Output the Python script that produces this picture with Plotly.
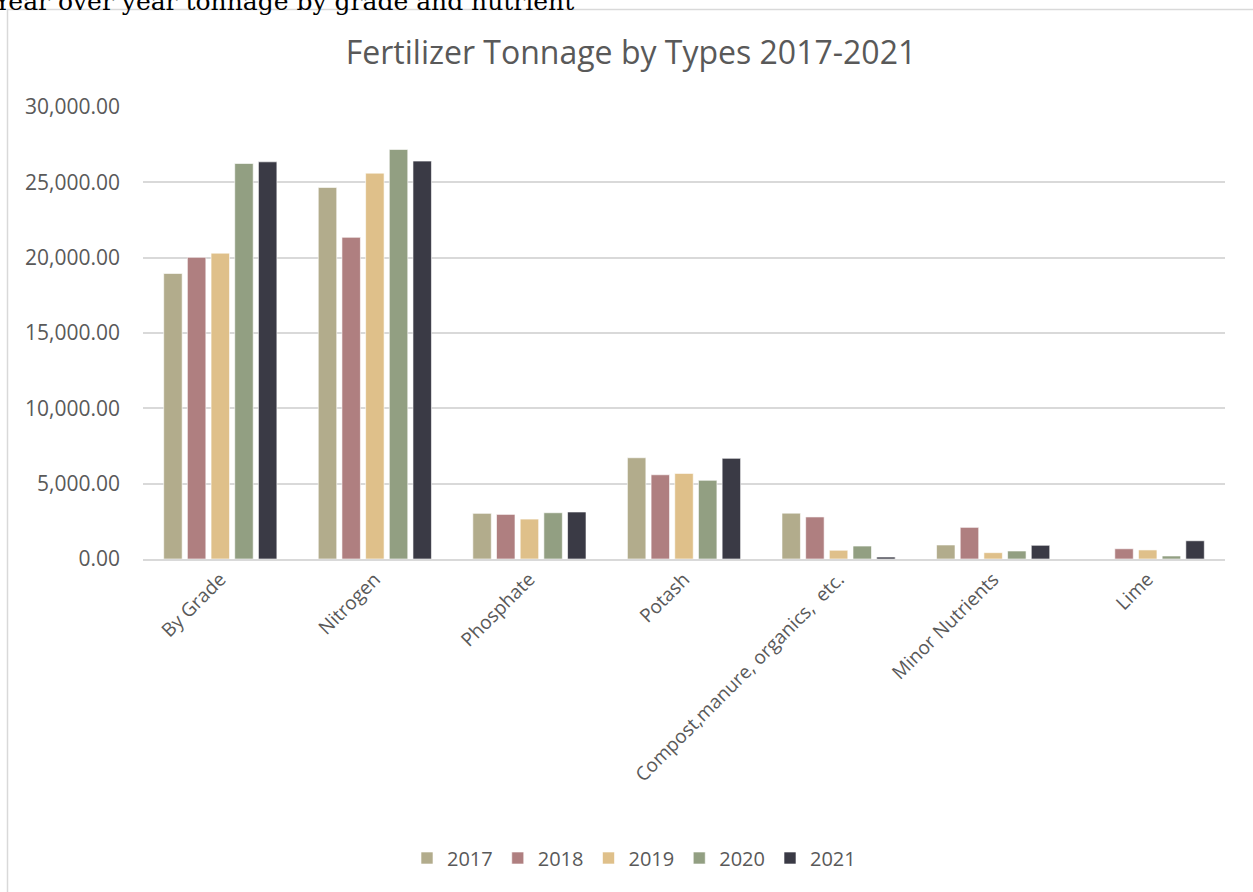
import plotly.graph_objects as go

categories = ["By Grade", "Nitrogen", "Phosphate", "Potash",
              "Compost,manure, organics,  etc.", "Minor Nutrients", "Lime"]
years = ["2017", "2018", "2019", "2020", "2021"]
v2017 = [18950, 24660, 3030, 6720, 3040, 930, 0]
v2018 = [20020, 21350, 2960, 5590, 2790, 2100, 680]
v2019 = [20300, 25610, 2650, 5680, 580, 420, 600]
v2020 = [26250, 27180, 3070, 5220, 860, 530, 200]
v2021 = [26360, 26410, 3120, 6680, 130, 910, 1210]
series = [v2017, v2018, v2019, v2020, v2021]
colors = ["#B2AC8C", "#AF7F80", "#DFC08A", "#929F82", "#3A3A45"]
y_ticks = [0, 5000, 10000, 15000, 20000, 25000, 30000]

W, H = 1253, 892
L, R, T, B = 143, 28, 107, 333

fig = go.Figure()
for yr, vals, c in zip(years, series, colors):
    fig.add_trace(go.Bar(
        name=yr, x=categories, y=vals,
        marker=dict(color=c, line=dict(color="rgba(255,255,255,0.6)", width=1)),
    ))

pw = W - L - R
ph = H - T - B
def px_x(p):
    return (p - L) / pw
def px_y(p):
    return (H - B - p) / ph

fig.update_layout(
    width=W, height=H,
    margin=dict(l=L, r=R, t=T, b=B),
    paper_bgcolor="white", plot_bgcolor="white",
    barmode="group", bargap=0.234, bargroupgap=0.22,
    font=dict(family="Open Sans", color="#595959"),
    title=dict(text="Fertilizer Tonnage by Types 2017-2021",
               x=631 / W, xanchor="center", xref="container",
               y=1 - 53 / H, yanchor="middle",
               font=dict(size=32, color="#595959", family="Open Sans")),
    legend=dict(orientation="h", x=px_x(634), xanchor="center",
                y=px_y(858), yanchor="middle",
                font=dict(size=20, color="#595959"),
                itemwidth=30, traceorder="normal"),
    showlegend=True,
)
fig.update_xaxes(
    showline=True, linecolor="#D9D9D9", linewidth=1.5,
    tickangle=-45, tickfont=dict(size=19, color="#595959"),
    showgrid=False, ticks="",
)
fig.update_yaxes(
    range=[0, 30000], tickvals=y_ticks, tickformat=",.2f",
    showgrid=True, gridcolor="#D9D9D9", gridwidth=1.5,
    zeroline=False, showline=False,
    tickfont=dict(size=21, color="#595959"),
    ticklabelstandoff=22,
)

# outer chart frame
fig.add_shape(type="rect", xref="paper", yref="paper",
              x0=px_x(7.5), x1=px_x(1260), y0=px_y(9.5), y1=px_y(905),
              line=dict(color="#D9D9D9", width=1.5), fillcolor="rgba(0,0,0,0)",
              layer="below")

# page text above the chart (partially cut off, as in the source page)
fig.add_annotation(text="Year over year tonnage by grade and nutrient",
                   xref="paper", yref="paper", x=px_x(-9), y=px_y(18),
                   xanchor="left", yanchor="bottom", showarrow=False,
                   font=dict(family="DejaVu Serif", size=25, color="#000000"))

fig.write_html("out.html", config={"displayModeBar": False},
               post_script="document.body.style.margin='0';document.body.style.overflow='hidden';")
